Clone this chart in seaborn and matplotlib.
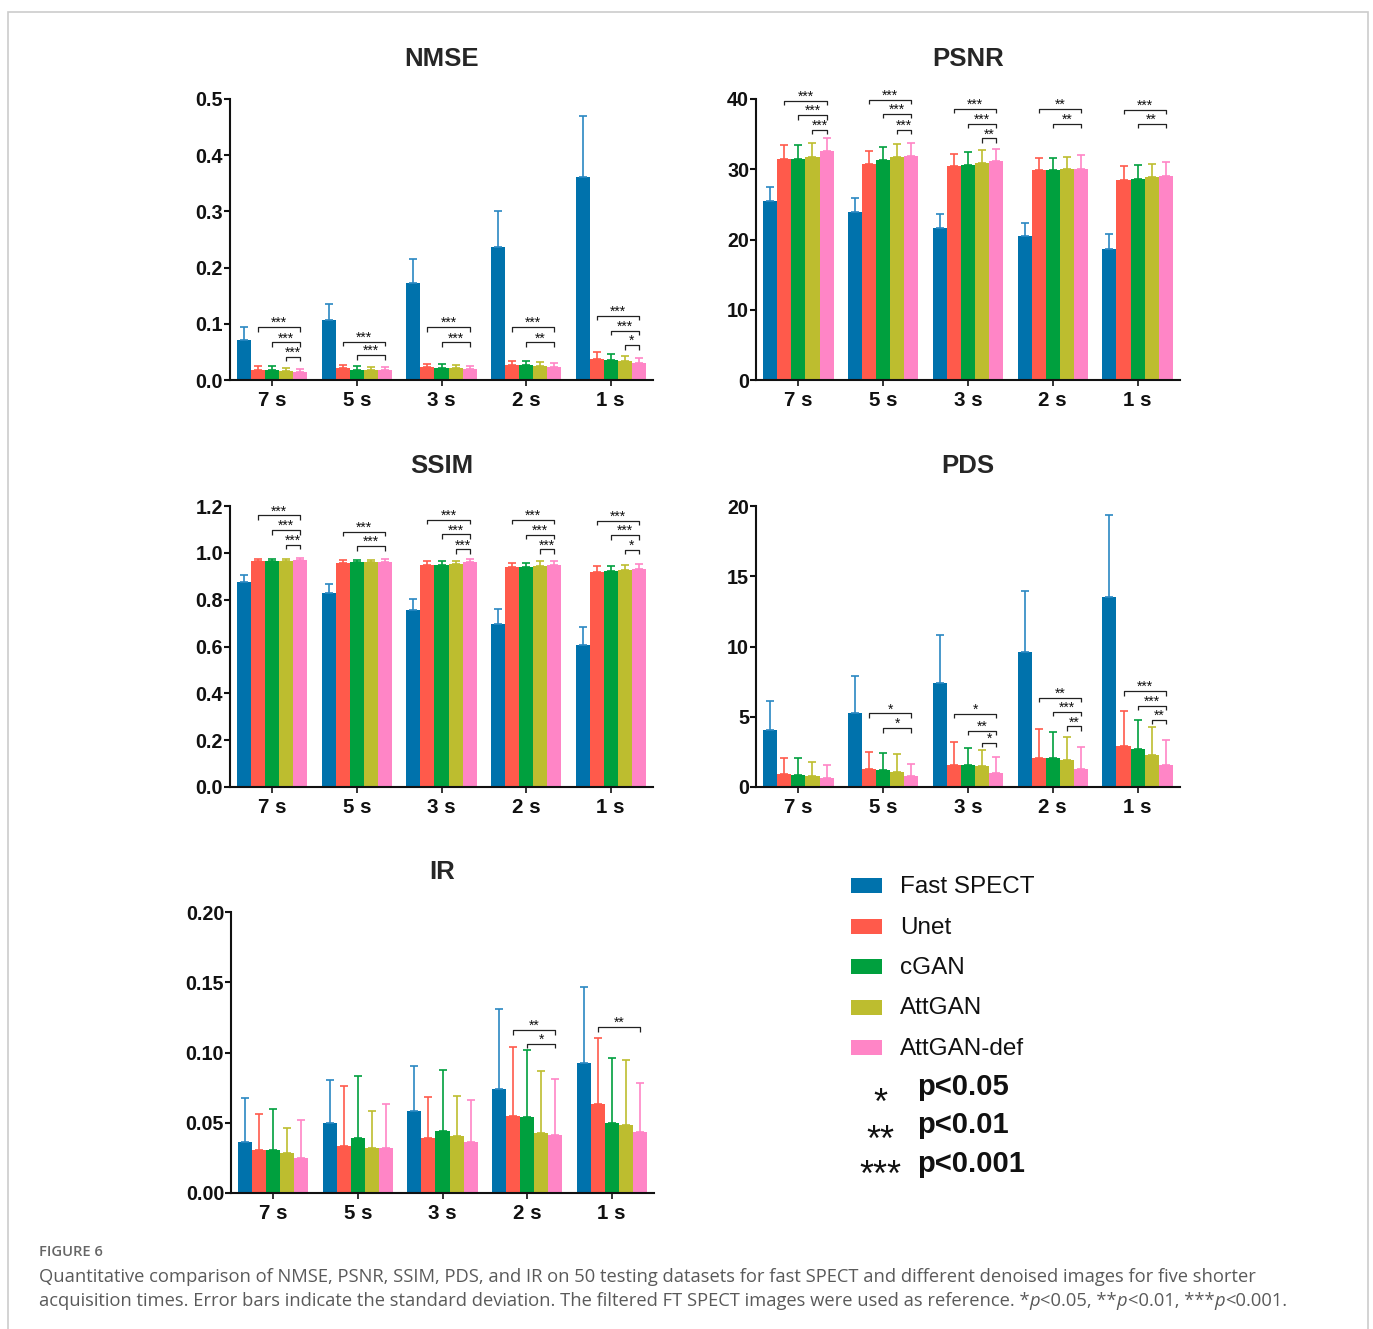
import matplotlib
matplotlib.use("Agg")
import matplotlib.pyplot as plt
import numpy as np
import pandas as pd
import seaborn as sns
from matplotlib.patches import Rectangle
from matplotlib.ticker import FormatStrFormatter

sns.set_style("ticks")
plt.rcParams["font.family"] = ["Liberation Sans", "DejaVu Sans"]

# ---------------------------------------------------------------- data
times = ["7 s", "5 s", "3 s", "2 s", "1 s"]
methods = ["Fast SPECT", "Unet", "cGAN", "AttGAN", "AttGAN-def"]
bar_colors = ["#0072AC", "#FF5A4B", "#00A03E", "#BDBD2F", "#FF85C6"]
err_colors = ["#2A88C2", "#FF5A4B", "#00A03E", "#BDBD2F", "#FF85C6"]

# rows follow `methods`, columns follow `times`
nmse_mean = [[0.072, 0.107, 0.173, 0.236, 0.362],
             [0.018, 0.021, 0.023, 0.026, 0.037],
             [0.018, 0.018, 0.022, 0.026, 0.035],
             [0.0155, 0.018, 0.021, 0.025, 0.033],
             [0.0136, 0.018, 0.020, 0.024, 0.031]]
nmse_sd = [[0.023, 0.029, 0.042, 0.065, 0.107],
           [0.007, 0.006, 0.006, 0.008, 0.013],
           [0.007, 0.007, 0.006, 0.008, 0.012],
           [0.0065, 0.005, 0.005, 0.007, 0.010],
           [0.0054, 0.005, 0.005, 0.006, 0.009]]

psnr_mean = [[25.5, 23.9, 21.7, 20.45, 18.6],
             [31.5, 30.8, 30.4, 29.85, 28.5],
             [31.5, 31.3, 30.6, 29.9, 28.6],
             [31.8, 31.7, 30.9, 30.0, 28.9],
             [32.6, 31.9, 31.2, 30.1, 29.0]]
psnr_sd = [[2.0, 2.0, 1.9, 1.85, 2.2],
           [1.95, 1.8, 1.8, 1.75, 1.95],
           [2.0, 1.9, 1.8, 1.75, 2.0],
           [1.9, 1.9, 1.8, 1.8, 1.9],
           [1.9, 1.9, 1.7, 1.9, 2.1]]

ssim_mean = [[0.874, 0.829, 0.754, 0.698, 0.608],
             [0.964, 0.958, 0.948, 0.941, 0.918],
             [0.964, 0.959, 0.948, 0.941, 0.921],
             [0.964, 0.960, 0.951, 0.945, 0.925],
             [0.968, 0.962, 0.961, 0.948, 0.930]]
ssim_sd = [[0.033, 0.039, 0.049, 0.061, 0.075],
           [0.010, 0.011, 0.016, 0.017, 0.024],
           [0.010, 0.011, 0.015, 0.017, 0.023],
           [0.010, 0.011, 0.015, 0.018, 0.022],
           [0.010, 0.011, 0.014, 0.017, 0.024]]

pds_mean = [[4.08, 5.29, 7.43, 9.58, 13.5],
            [0.93, 1.28, 1.59, 2.09, 2.94],
            [0.88, 1.23, 1.57, 2.06, 2.70],
            [0.81, 1.09, 1.47, 1.95, 2.30],
            [0.62, 0.76, 0.97, 1.28, 1.54]]
pds_sd = [[2.06, 2.61, 3.37, 4.39, 5.84],
          [1.11, 1.19, 1.61, 2.01, 2.49],
          [1.16, 1.19, 1.18, 1.85, 2.09],
          [0.95, 1.26, 1.16, 1.61, 1.95],
          [0.92, 0.85, 1.19, 1.54, 1.78]]

ir_mean = [[0.036, 0.0495, 0.0585, 0.0738, 0.0928],
           [0.0305, 0.0336, 0.0393, 0.0549, 0.063],
           [0.0303, 0.0388, 0.0438, 0.0544, 0.0497],
           [0.0284, 0.0322, 0.0409, 0.0426, 0.0483],
           [0.0251, 0.0322, 0.0362, 0.0412, 0.0433]]
ir_sd = [[0.0317, 0.031, 0.0321, 0.0572, 0.0535],
         [0.0254, 0.0426, 0.0291, 0.0491, 0.0475],
         [0.0296, 0.0443, 0.0435, 0.0471, 0.0462],
         [0.018, 0.0265, 0.0284, 0.044, 0.0461],
         [0.0272, 0.0308, 0.0303, 0.040, 0.0353]]

# significance brackets: (time index, method compared with AttGAN-def, label, height)
nmse_sig = [(0, 1, "***", 0.094), (0, 2, "***", 0.067), (0, 3, "***", 0.0415),
            (1, 1, "***", 0.068), (1, 2, "***", 0.044),
            (2, 1, "***", 0.094), (2, 2, "***", 0.067),
            (3, 1, "***", 0.094), (3, 2, "**", 0.067),
            (4, 1, "***", 0.114), (4, 2, "***", 0.088), (4, 3, "*", 0.062)]
psnr_sig = [(0, 1, "***", 39.76), (0, 2, "***", 37.7), (0, 3, "***", 35.6),
            (1, 1, "***", 39.86), (1, 2, "***", 37.9), (1, 3, "***", 35.6),
            (2, 1, "***", 38.6), (2, 2, "***", 36.5), (2, 3, "**", 34.4),
            (3, 1, "**", 38.6), (3, 2, "**", 36.5),
            (4, 1, "***", 38.5), (4, 2, "**", 36.5)]
ssim_sig = [(0, 1, "***", 1.160), (0, 2, "***", 1.097), (0, 3, "***", 1.035),
            (1, 1, "***", 1.090), (1, 2, "***", 1.028),
            (2, 1, "***", 1.142), (2, 2, "***", 1.079), (2, 3, "***", 1.015),
            (3, 1, "***", 1.142), (3, 2, "***", 1.078), (3, 3, "***", 1.015),
            (4, 1, "***", 1.137), (4, 2, "***", 1.075), (4, 3, "*", 1.013)]
pds_sig = [(1, 1, "*", 5.24), (1, 2, "*", 4.18),
           (2, 1, "*", 5.22), (2, 2, "**", 3.99), (2, 3, "*", 3.16),
           (3, 1, "**", 6.36), (3, 2, "***", 5.36), (3, 3, "**", 4.32),
           (4, 1, "***", 6.83), (4, 2, "***", 5.79), (4, 3, "**", 4.79)]
ir_sig = [(3, 1, "**", 0.116), (3, 2, "*", 0.1063), (4, 1, "**", 0.118)]

pvalue_stars = ["*", "**", "***"]
pvalue_texts = ["p<0.05", "p<0.01", "p<0.001"]

# ---------------------------------------------------------------- layout
W, H = 1373, 1329
fig = plt.figure(figsize=(W / 100, H / 100), dpi=100)
fig.patch.set_facecolor("white")


def px_axes(left, top, right, bottom):
    return fig.add_axes([left / W, 1 - bottom / H, (right - left) / W, (bottom - top) / H])


def long_frame(mean, sd):
    rows = []
    for mi, m in enumerate(methods):
        for ti, t in enumerate(times):
            rows.append({"time": t, "method": m, "value": mean[mi][ti], "sd": sd[mi][ti]})
    return pd.DataFrame(rows)


def panel(ax, title, mean, sd, sig, ymax, step, fmt):
    df = long_frame(mean, sd)
    sns.barplot(data=df, x="time", y="value", hue="method", order=times,
                hue_order=methods, palette=bar_colors, errorbar=None,
                width=0.83, gap=0, dodge=True, legend=False, ax=ax,
                saturation=1, linewidth=0)
    bar_containers = list(ax.containers)
    centers = []
    for mi, cont in enumerate(bar_containers):
        xs = []
        for ti, bar in enumerate(cont.patches):
            x = bar.get_x() + bar.get_width() / 2
            y = bar.get_height()
            xs.append(x)
            ax.errorbar(x, y, yerr=[[0], [sd[mi][ti]]], fmt="none",
                        ecolor=err_colors[mi], elinewidth=1.2, capsize=3,
                        capthick=1.2, zorder=3)
        centers.append(xs)
    drop = 0.016 * ymax
    for ti, mi, label, yb in sig:
        x1, x2 = centers[mi][ti], centers[4][ti]
        ax.plot([x1, x1, x2, x2], [yb - drop, yb, yb, yb - drop],
                color="#222222", lw=0.9, solid_capstyle="butt", zorder=4)
        ax.text((x1 + x2) / 2, yb, label, ha="center", va="baseline",
                fontsize=10, color="#111111")
    ax.set_xlim(-0.5, 4.5)
    ax.set_ylim(0, ymax)
    ax.set_yticks(np.arange(0, ymax + step / 2, step))
    ax.yaxis.set_major_formatter(FormatStrFormatter(fmt))
    ax.set_xlabel("")
    ax.set_ylabel("")
    ax.set_title(title, fontsize=18.5, fontweight="bold", pad=24)
    for side in ("top", "right"):
        ax.spines[side].set_visible(False)
    for side in ("left", "bottom"):
        ax.spines[side].set_linewidth(1.5)
        ax.spines[side].set_color("#111111")
    ax.tick_params(axis="y", length=4, width=1.5, pad=1, labelsize=14.2, colors="#111111")
    ax.tick_params(axis="x", length=4, width=1.2, pad=4, labelsize=14.8, colors="#111111")
    for lab in ax.get_xticklabels() + ax.get_yticklabels():
        lab.set_fontweight("bold")
    ax.set_facecolor("white")


ax1 = px_axes(230, 99, 653, 380)
panel(ax1, "NMSE", nmse_mean, nmse_sd, nmse_sig, 0.5, 0.1, "%.1f")
ax2 = px_axes(756, 99, 1180, 380)
panel(ax2, "PSNR", psnr_mean, psnr_sd, psnr_sig, 40, 10, "%d")
ax3 = px_axes(230, 506, 653, 787)
panel(ax3, "SSIM", ssim_mean, ssim_sd, ssim_sig, 1.2, 0.2, "%.1f")
ax4 = px_axes(756, 506, 1180, 787)
panel(ax4, "PDS", pds_mean, pds_sd, pds_sig, 20, 5, "%d")
ax5 = px_axes(231, 912, 654, 1193)
panel(ax5, "IR", ir_mean, ir_sd, ir_sig, 0.20, 0.05, "%.2f")

# ---------------------------------------------------------------- legend
for i, (m, c) in enumerate(zip(methods, bar_colors)):
    top = 878 + i * 40.5
    fig.patches.append(Rectangle((851 / W, 1 - (top + 15) / H), 31 / W, 15 / H,
                                 transform=fig.transFigure, facecolor=c,
                                 edgecolor="none"))
    fig.text(900 / W, 1 - (893 + i * 40.5) / H, m, fontsize=17.5,
             va="baseline", ha="left", color="#111111")

star_base = [1114, 1151, 1186]
text_base = [1095, 1133, 1172]
for s, t, sb, tb in zip(pvalue_stars, pvalue_texts, star_base, text_base):
    fig.text(880 / W, 1 - sb / H, s, fontsize=26, ha="center", va="baseline",
             color="#111111")
    fig.text(917 / W, 1 - tb / H, t, fontsize=21, fontweight="bold", ha="left",
             va="baseline", color="#111111")

# ---------------------------------------------------------------- frame and caption
fig.patches.append(Rectangle((7.5 / W, -0.02), 1360 / W, 1 - 12 / H + 0.02,
                             transform=fig.transFigure, facecolor="none",
                             edgecolor="#cccccc", lw=1.2, clip_on=False))

cap_color = "#5a5a5a"
cap_size = 13.2
cap_font = ["Open Sans", "DejaVu Sans"]
fig.text(39 / W, 1 - 1256 / H, "FIGURE 6", fontsize=10.6, fontweight="semibold",
         family=cap_font, color="#666666", va="baseline")
fig.text(39 / W, 1 - 1282 / H,
         "Quantitative comparison of NMSE, PSNR, SSIM, PDS, and IR on 50 testing datasets "
         "for fast SPECT and different denoised images for five shorter",
         fontsize=cap_size, family=cap_font, color=cap_color, va="baseline")

renderer = fig.canvas.get_renderer()
pieces = [("acquisition times. Error bars indicate the standard deviation. The filtered FT "
           "SPECT images were used as reference. *", "normal"),
          ("p", "italic"), ("<0.05, **", "normal"), ("p", "italic"),
          ("<0.01, ***", "normal"), ("p", "italic"), ("<0.001.", "normal")]
x_px = 39.0
for txt, style in pieces:
    t = fig.text(x_px / W, 1 - 1306 / H, txt, fontsize=cap_size, family=cap_font,
                 style=style, color=cap_color, va="baseline")
    x_px += t.get_window_extent(renderer).width

fig.savefig("out.png", dpi=100, facecolor="white")
